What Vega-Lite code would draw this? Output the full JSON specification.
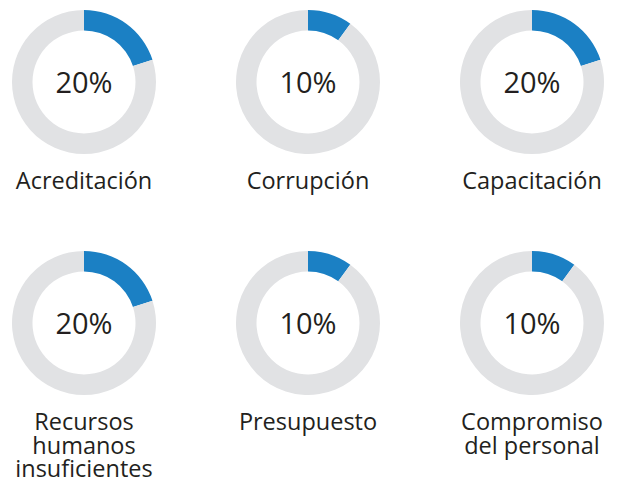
{
  "$schema": "https://vega.github.io/schema/vega-lite/v6.json",
  "padding": 0,
  "autosize": {"type": "pad"},
  "background": "white",
  "config": {"view": {"stroke": null}},
  "data": {
    "values": [
      {"idx": 1, "chart": "Acreditación", "label": "Acreditación", "pct": "20%", "orden": 1, "parte": "valor", "valor": 20},
      {"idx": 1, "chart": "Acreditación", "label": "Acreditación", "pct": "20%", "orden": 2, "parte": "resto", "valor": 80},
      {"idx": 2, "chart": "Corrupción", "label": "Corrupción", "pct": "10%", "orden": 1, "parte": "valor", "valor": 10},
      {"idx": 2, "chart": "Corrupción", "label": "Corrupción", "pct": "10%", "orden": 2, "parte": "resto", "valor": 90},
      {"idx": 3, "chart": "Capacitación", "label": "Capacitación", "pct": "20%", "orden": 1, "parte": "valor", "valor": 20},
      {"idx": 3, "chart": "Capacitación", "label": "Capacitación", "pct": "20%", "orden": 2, "parte": "resto", "valor": 80},
      {"idx": 4, "chart": "Recursos humanos insuficientes", "label": "Recursos\nhumanos\ninsuficientes", "pct": "20%", "orden": 1, "parte": "valor", "valor": 20},
      {"idx": 4, "chart": "Recursos humanos insuficientes", "label": "Recursos\nhumanos\ninsuficientes", "pct": "20%", "orden": 2, "parte": "resto", "valor": 80},
      {"idx": 5, "chart": "Presupuesto", "label": "Presupuesto", "pct": "10%", "orden": 1, "parte": "valor", "valor": 10},
      {"idx": 5, "chart": "Presupuesto", "label": "Presupuesto", "pct": "10%", "orden": 2, "parte": "resto", "valor": 90},
      {"idx": 6, "chart": "Compromiso del personal", "label": "Compromiso\ndel personal", "pct": "10%", "orden": 1, "parte": "valor", "valor": 10},
      {"idx": 6, "chart": "Compromiso del personal", "label": "Compromiso\ndel personal", "pct": "10%", "orden": 2, "parte": "resto", "valor": 90}
    ]
  },
  "facet": {"field": "chart", "type": "nominal", "sort": {"field": "idx"}, "title": null, "header": {"labelExpr": "''", "labelFontSize": 0, "labelPadding": 0, "title": null}},
  "columns": 3,
  "spacing": {"column": 42, "row": 0},
  "spec": {
    "width": 182,
    "height": 241,
    "layer": [
      {
        "mark": {"type": "arc", "outerRadius": 72, "innerRadius": 51.5},
        "encoding": {
          "theta": {"field": "valor", "type": "quantitative", "stack": true},
          "order": {"field": "orden", "type": "quantitative"},
          "color": {"field": "parte", "type": "nominal", "scale": {"domain": ["valor", "resto"], "range": ["#1B80C4", "#E1E2E4"]}, "legend": null},
          "x": {"value": 84},
          "y": {"value": 82}
        }
      },
      {
        "transform": [{"filter": "datum.orden == 1"}],
        "mark": {"type": "text", "font": "Open Sans", "fontSize": 29, "color": "#231F20", "align": "center", "baseline": "middle"},
        "encoding": {
          "text": {"field": "pct"},
          "x": {"value": 84},
          "y": {"value": 84}
        }
      },
      {
        "transform": [{"filter": "datum.orden == 1"}],
        "mark": {"type": "text", "font": "Open Sans", "fontSize": 23.5, "color": "#231F20", "align": "center", "baseline": "alphabetic", "lineBreak": "\n", "lineHeight": 23.5},
        "encoding": {
          "text": {"field": "label"},
          "x": {"value": 84},
          "y": {"value": 189}
        }
      }
    ]
  }
}
